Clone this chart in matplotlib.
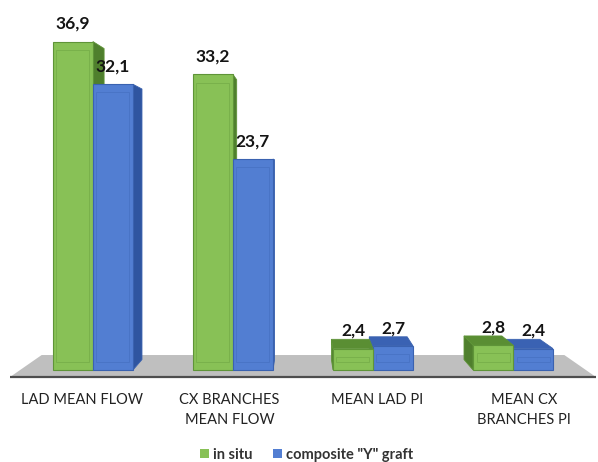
import matplotlib
matplotlib.use("Agg")
import matplotlib.pyplot as plt
from matplotlib.patches import Polygon, Patch

categories = ["LAD MEAN FLOW", "CX BRANCHES\nMEAN FLOW", "MEAN LAD PI", "MEAN CX\nBRANCHES PI"]
in_situ = [36.9, 33.2, 2.4, 2.8]
composite = [32.1, 23.7, 2.7, 2.4]
series_names = ["in situ", "composite \"Y\" graft"]

# face colours: front, side, top, edge
green = ("#88c156", "#4f7f2d", "#5a8e33", "#5f9438")
blue = ("#527ed2", "#2f55a0", "#3a62b3", "#3a62b0")

plt.rcParams["font.family"] = ["Lato", "DejaVu Sans"]

fig = plt.figure(figsize=(5.98, 4.62), dpi=100)
ax = fig.add_axes([0, 0, 1, 1])
ax.set_xlim(-0.664, 3.607)
ax.set_ylim(-10.34, 41.57)
ax.axis("off")

# simple perspective: everything shrinks towards a vanishing point
vx, vy = 1.5, 22.1
f_back = 0.947
bar_w = 0.2857


def proj(x, y, f):
    return (vx + (x - vx) * f, vy + (y - vy) * f)


# grey floor
floor_front, floor_back = 1.036, 0.924
fx0, fx1 = -0.52, 3.52
floor = [proj(fx0, 0, floor_front), proj(fx1, 0, floor_front),
         proj(fx1, 0, floor_back), proj(fx0, 0, floor_back)]
ax.add_patch(Polygon(floor, closed=True, facecolor="#bfbfbf", edgecolor="none", zorder=1))
ax.plot([floor[0][0], floor[1][0]], [floor[0][1] - 0.05, floor[1][1] - 0.05],
        color="#4d4d4d", lw=1.6, zorder=1, solid_capstyle="butt")


def draw_bar(x0, x1, h, cols, z):
    front, side, top, edge = cols
    if x1 <= vx:
        s = [proj(x1, 0, 1), proj(x1, h, 1), proj(x1, h, f_back), proj(x1, 0, f_back)]
        ax.add_patch(Polygon(s, closed=True, facecolor=side, edgecolor=edge, lw=0.6, zorder=z))
    elif x0 >= vx:
        s = [proj(x0, 0, 1), proj(x0, h, 1), proj(x0, h, f_back), proj(x0, 0, f_back)]
        ax.add_patch(Polygon(s, closed=True, facecolor=side, edgecolor=edge, lw=0.6, zorder=z))
    if h < vy:
        t = [proj(x0, h, 1), proj(x1, h, 1), proj(x1, h, f_back), proj(x0, h, f_back)]
        ax.add_patch(Polygon(t, closed=True, facecolor=top, edgecolor=edge, lw=0.6, zorder=z))
    fr = [(x0, 0), (x1, 0), (x1, h), (x0, h)]
    ax.add_patch(Polygon(fr, closed=True, facecolor=front, edgecolor=edge, lw=0.8, zorder=z + 0.1))
    # faint inner line for the glassy look
    dx = 0.025
    dy = 0.9
    if h > 2 * dy:
        inner = [(x0 + dx, dy), (x1 - dx, dy), (x1 - dx, h - dy), (x0 + dx, h - dy)]
        ax.add_patch(Polygon(inner, closed=True, facecolor="none", edgecolor=edge,
                             lw=0.5, alpha=0.5, zorder=z + 0.2))


bars = []
for i in range(len(categories)):
    bars.append((i - bar_w, i, in_situ[i], green))
    bars.append((i, i + bar_w, composite[i], blue))

# farthest from the centre first so nearer bars overlap them
bars.sort(key=lambda b: -abs((b[0] + b[1]) / 2 - vx))
for k, (x0, x1, h, cols) in enumerate(bars):
    draw_bar(x0, x1, h, cols, 2 + k)
    ax.text((x0 + x1) / 2, h + 1.1, f"{h:.1f}".replace(".", ","),
            ha="center", va="bottom", fontsize=12.5, fontweight="bold",
            color="#141414", zorder=30)

for i, cat in enumerate(categories):
    cx = vx + (i - vx) * 1.052
    ax.text(cx, -2.55, cat, ha="center", va="top", fontsize=10.5,
            color="#222222", linespacing=1.55)

handles = [Patch(facecolor=green[0], edgecolor="none"), Patch(facecolor=blue[0], edgecolor="none")]
fig.legend(handles, series_names, loc="center", bbox_to_anchor=(0.513, 1 - 455 / 462),
           ncol=2, frameon=False, handlelength=0.6, handleheight=0.6,
           handletextpad=0.3, columnspacing=1.4,
           prop={"family": "Lato", "size": 10.5, "weight": "bold"}, labelcolor="#333333")

fig.savefig("out.png", dpi=100)
